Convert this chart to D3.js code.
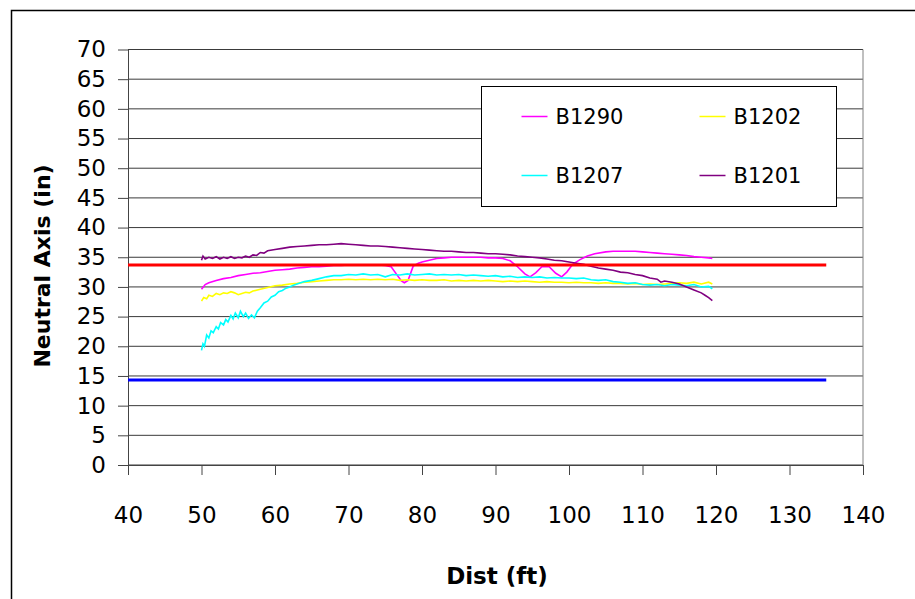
<!DOCTYPE html>
<html>
<head>
<meta charset="utf-8">
<script src="https://cdn.jsdelivr.net/npm/d3@7"></script>
<style>
  body { margin: 0; background: #fff; }
  text { font-family: 'DejaVu Sans', sans-serif; fill: #000; }
</style>
</head>
<body>
<div id="chart"></div>
<script>
// Neutral axis depth along the girder, one [dist, depth] pair per reading
const b1290 = [
  [50, 29.6], [50.5, 30.4], [51, 30.7], [52, 31.1], [53, 31.4], [54, 31.6], [55, 31.9], [56, 32.1],
  [57, 32.3], [58, 32.4], [59, 32.6], [60, 32.8], [61, 32.9], [62, 33.0], [63, 33.2], [64, 33.3],
  [65, 33.4], [66, 33.4], [67, 33.5], [68, 33.6], [69, 33.6], [70, 33.7], [71, 33.7], [72, 33.7],
  [73, 33.7], [74, 33.7], [75, 33.6], [75.8, 33.4], [76.5, 32.2], [77.2, 31.0], [77.6, 30.7],
  [78.1, 31.1], [78.8, 33.5], [79.5, 34.0], [80, 34.2], [81, 34.5], [82, 34.8], [83, 34.9],
  [84, 35.0], [85, 35.0], [86, 35.0], [87, 35.0], [88, 35.0], [89, 34.9], [90, 34.9], [91, 34.8],
  [92, 34.4], [93, 33.4], [94, 32.2], [94.7, 31.7], [95.5, 32.4], [96.3, 33.4], [97.3, 33.4],
  [98.2, 32.3], [99, 31.7], [99.7, 32.5], [100.5, 33.8], [101.5, 34.6], [102.5, 35.2], [103.5, 35.6],
  [105, 35.9], [106, 36.0], [107, 36.0], [108, 36.0], [109, 36.0], [110, 35.9], [111, 35.8],
  [112, 35.7], [113, 35.6], [114, 35.5], [115, 35.4], [116, 35.3], [117, 35.1], [118, 35.0],
  [119, 34.9], [119.5, 34.8]
]

const b1202 = [
  [50, 27.6], [50.3, 28.2], [50.7, 28.0], [51, 28.6], [51.5, 28.4], [52, 28.9], [52.5, 28.7],
  [53, 29.0], [53.5, 28.9], [54, 29.2], [54.5, 29.0], [55, 28.7], [55.5, 28.9], [56, 29.1],
  [56.5, 29.0], [57, 29.3], [58, 29.6], [59, 29.9], [60, 30.2], [61, 30.3], [62, 30.5], [63, 30.6],
  [64, 30.8], [65, 30.9], [66, 31.0], [67, 31.1], [68, 31.2], [69, 31.2], [70, 31.3], [71, 31.2],
  [72, 31.3], [73, 31.2], [74, 31.3], [75, 31.2], [76, 31.3], [77, 31.1], [78, 31.2], [79, 31.1],
  [80, 31.2], [81, 31.1], [82, 31.1], [83, 31.2], [84, 31.0], [85, 31.1], [86, 31.0], [87, 31.1],
  [88, 31.0], [89, 31.1], [90, 31.0], [91, 30.9], [92, 31.0], [93, 30.9], [94, 31.0], [95, 30.9],
  [96, 30.8], [97, 30.9], [98, 30.8], [99, 30.8], [100, 30.7], [101, 30.8], [102, 30.7], [103, 30.7],
  [104, 30.6], [105, 30.7], [106, 30.6], [107, 30.6], [108, 30.5], [109, 30.6], [110, 30.4],
  [111, 30.5], [112, 30.4], [113, 30.5], [114, 30.6], [115, 30.7], [116, 30.6], [117, 30.8],
  [118, 30.5], [119, 30.8], [119.5, 30.5]
]

const b1207 = [
  [50, 19.3], [50.2, 20.4], [50.4, 20.0], [50.7, 21.9], [51, 21.4], [51.3, 22.6], [51.6, 22.3],
  [52, 23.3], [52.3, 22.9], [52.6, 24.0], [53, 23.6], [53.3, 24.5], [53.6, 24.1], [54, 25.2],
  [54.3, 24.6], [54.6, 25.6], [55, 24.8], [55.3, 25.9], [55.7, 25.0], [56, 25.6], [56.4, 24.7],
  [56.8, 25.3], [57.2, 24.8], [57.6, 25.9], [58, 26.5], [58.5, 27.3], [59, 27.6], [59.5, 28.3],
  [60, 28.6], [60.5, 29.2], [61, 29.4], [61.5, 29.8], [62, 30.0], [62.5, 30.3], [63, 30.5],
  [64, 30.9], [65, 31.1], [66, 31.4], [67, 31.7], [68, 31.9], [69, 31.9], [70, 32.1], [71, 32.0],
  [72, 32.2], [73, 32.0], [74, 32.1], [75, 31.7], [76, 32.1], [77, 32.0], [78, 32.2], [79, 32.0],
  [80, 32.1], [81, 32.2], [82, 32.0], [83, 32.1], [84, 32.0], [85, 32.1], [86, 31.9], [87, 32.0],
  [88, 31.9], [89, 31.8], [90, 31.9], [91, 31.7], [92, 31.8], [93, 31.6], [94, 31.7], [95, 31.6],
  [96, 31.7], [97, 31.5], [98, 31.6], [99, 31.5], [100, 31.5], [101, 31.4], [102, 31.5], [103, 31.2],
  [104, 31.1], [105, 31.2], [106, 30.9], [107, 30.8], [108, 30.6], [109, 30.7], [110, 30.4],
  [111, 30.3], [112, 30.4], [113, 30.2], [114, 30.4], [115, 30.3], [116, 30.2], [117, 30.4],
  [118, 30.0], [119, 30.1], [119.5, 29.7]
]

const b1201 = [
  [50, 34.5], [50.2, 35.2], [50.5, 34.7], [51, 35.0], [51.5, 34.8], [52, 35.1], [52.5, 34.7],
  [53, 35.0], [53.5, 34.8], [54, 35.1], [54.5, 34.8], [55, 35.0], [55.5, 34.9], [56, 35.2],
  [56.5, 35.0], [57, 35.4], [57.5, 35.3], [58, 35.8], [58.5, 35.7], [59, 36.1], [60, 36.3],
  [61, 36.5], [62, 36.7], [63, 36.8], [64, 36.9], [65, 37.0], [66, 37.1], [67, 37.1], [68, 37.2],
  [69, 37.3], [70, 37.2], [71, 37.1], [72, 37.0], [73, 36.9], [74, 36.9], [75, 36.8], [76, 36.7],
  [77, 36.6], [78, 36.5], [79, 36.4], [80, 36.3], [81, 36.2], [82, 36.1], [83, 36.0], [84, 36.0],
  [85, 35.9], [86, 35.8], [87, 35.8], [88, 35.7], [89, 35.6], [90, 35.6], [91, 35.5], [92, 35.4],
  [93, 35.2], [94, 35.1], [95, 35.0], [96, 34.9], [97, 34.7], [98, 34.5], [99, 34.4], [100, 34.2],
  [101, 34.0], [102, 33.8], [103, 33.5], [104, 33.2], [105, 33.0], [106, 32.8], [107, 32.5],
  [108, 32.4], [109, 32.1], [110, 31.9], [111, 31.5], [112, 31.3], [112.5, 30.8], [113, 31.0],
  [114, 30.8], [115, 30.5], [116, 30.0], [117, 29.5], [118, 29.0], [118.5, 28.6], [119, 28.2],
  [119.5, 27.7]
]

// the two horizontal reference lines
const refRed = [[40, 33.7], [135, 33.7]]
const refBlue = [[40, 14.3], [135, 14.3]]

const xTicks = [40, 50, 60, 70, 80, 90, 100, 110, 120, 130, 140]
const yTicks = [0, 5, 10, 15, 20, 25, 30, 35, 40, 45, 50, 55, 60, 65, 70]

const seriesNames = ['B1290', 'B1202', 'B1207', 'B1201']
const seriesColors = ['#ff00ff', '#ffff00', '#00ffff', '#800080']
const seriesData = [b1290, b1202, b1207, b1201]

const W = 915
const H = 599
const margin = { top: 49.5, right: 52, bottom: 134, left: 128 }
const width = W - margin.left - margin.right
const height = H - margin.top - margin.bottom

const svgRoot = d3
  .select('#chart')
  .append('svg')
  .attr('width', W)
  .attr('height', H)

// outer chart frame (only left and top edges show)
svgRoot
  .append('path')
  .attr('d', 'M11.5,' + H + 'V10.5H' + W)
  .attr('fill', 'none')
  .attr('stroke', '#000')
  .attr('stroke-width', 1.5)

const svg = svgRoot
  .append('g')
  .attr('transform', 'translate(' + margin.left + ',' + margin.top + ')')

const x = d3.scaleLinear().domain([40, 140]).range([0, width])
const y = d3.scaleLinear().domain([0, 70]).range([height, 0])

// gridlines
svg
  .append('g')
  .selectAll('line')
  .data(yTicks)
  .enter()
  .append('line')
  .attr('x1', 0)
  .attr('x2', width)
  .attr('y1', d => y(d))
  .attr('y2', d => y(d))
  .attr('stroke', '#3a3a3a')
  .attr('stroke-width', 1)

// plot area border right side
svg
  .append('line')
  .attr('x1', width)
  .attr('x2', width)
  .attr('y1', 0)
  .attr('y2', height)
  .attr('stroke', '#808080')

const yAxis = d3
  .axisLeft(y)
  .tickValues(yTicks)
  .tickSize(10)
  .tickPadding(12)
  .tickSizeOuter(0)

const xAxis = d3
  .axisBottom(x)
  .tickValues(xTicks)
  .tickSize(10)
  .tickPadding(32)
  .tickSizeOuter(0)

svg
  .append('g')
  .attr('class', 'axis y-axis')
  .call(yAxis)

svg
  .append('g')
  .attr('class', 'axis x-axis')
  .attr('transform', 'translate(0,' + height + ')')
  .call(xAxis)

svg.selectAll('.axis .domain').attr('stroke', '#444')
svg.selectAll('.axis .tick line').attr('stroke', '#444')
svg
  .selectAll('.axis text')
  .style('font-family', "'DejaVu Sans', sans-serif")
  .style('font-size', '23px')
  .attr('fill', '#000')

const line = d3
  .line()
  .x(d => x(d[0]))
  .y(d => y(d[1]))

svg
  .append('g')
  .selectAll('path')
  .data(seriesData)
  .enter()
  .append('path')
  .attr('d', line)
  .attr('fill', 'none')
  .attr('stroke', (d, i) => seriesColors[i])
  .attr('stroke-width', 1.6)

svg
  .append('path')
  .attr('d', line(refRed))
  .attr('stroke', '#ff0000')
  .attr('stroke-width', 3)
  .attr('fill', 'none')

svg
  .append('path')
  .attr('d', line(refBlue))
  .attr('stroke', '#0000ff')
  .attr('stroke-width', 3)
  .attr('fill', 'none')

// legend
const legend = svgRoot.append('g').attr('transform', 'translate(481.5,86.5)')

legend
  .append('rect')
  .attr('width', 355)
  .attr('height', 120)
  .attr('fill', '#fff')
  .attr('stroke', '#000')

const legendItems = legend
  .selectAll('.item')
  .data(seriesNames)
  .enter()
  .append('g')
  .attr('class', 'item')
  .attr('transform', (d, i) => 'translate(' + (40 + (i % 2) * 178) + ',' + (30 + Math.floor(i / 2) * 59) + ')')

legendItems
  .append('line')
  .attr('x1', 0)
  .attr('x2', 26)
  .attr('stroke', (d, i) => seriesColors[i])
  .attr('stroke-width', 1.5)

legendItems
  .append('text')
  .attr('x', 34)
  .attr('dy', '0.35em')
  .style('font-size', '21px')
  .text(d => d)

// axis titles
svgRoot
  .append('text')
  .attr('transform', 'translate(50,266) rotate(-90)')
  .attr('text-anchor', 'middle')
  .style('font-size', '22px')
  .style('font-weight', 'bold')
  .text('Neutral Axis (in)')

svgRoot
  .append('text')
  .attr('x', 497)
  .attr('y', 584)
  .attr('text-anchor', 'middle')
  .style('font-size', '23px')
  .style('font-weight', 'bold')
  .text('Dist (ft)')
</script>
</body>
</html>
